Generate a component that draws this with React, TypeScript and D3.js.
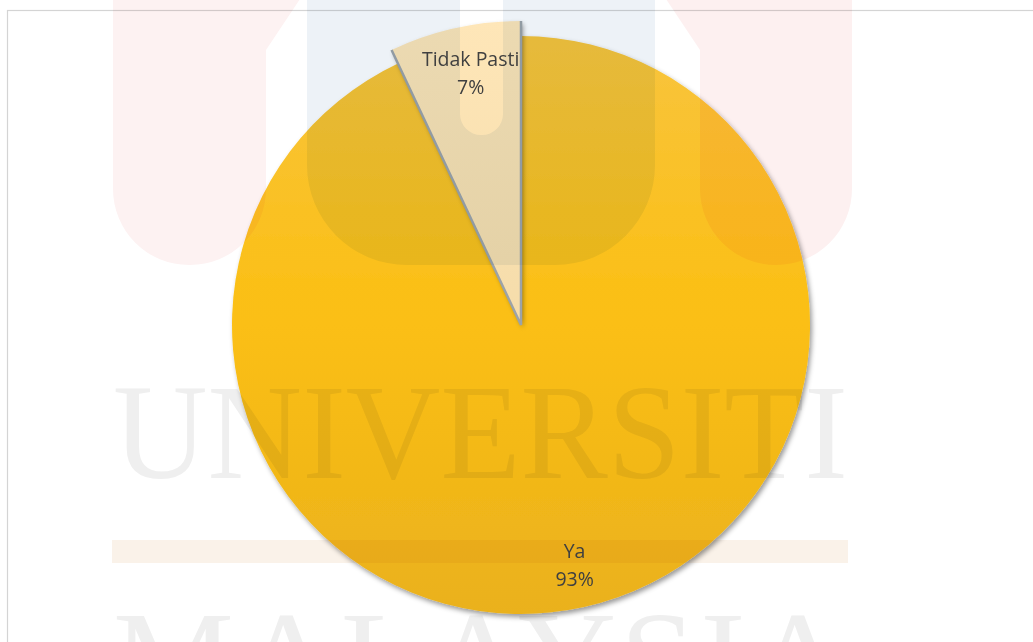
import React from "react";
import * as d3 from "d3";

// ---- data ----
const categories = ["Ya", "Tidak Pasti"];
const values = [93, 7];
const percentLabels = ["93%", "7%"];

// ---- layout ----
const W = 1033;
const H = 642;
const CX = 521;
const CY = 325;
const R_MAIN = 289;
const R_SMALL_SLICE = 304;

function roundedBottomRect(x0: number, x1: number, y0: number, y1: number, r: number, slantLeft = 0, slantRight = 0) {
  const p = d3.path();
  p.moveTo(x0 - slantLeft, y0);
  p.lineTo(x1 + slantRight, y0);
  if (slantRight) p.lineTo(x1, y0 + 60);
  p.lineTo(x1, y1 - r);
  p.arcTo(x1, y1, x1 - r, y1, r);
  p.lineTo(x0 + r, y1);
  p.arcTo(x0, y1, x0, y1 - r, r);
  if (slantLeft) p.lineTo(x0, y0 + 60);
  p.closePath();
  return p.toString();
}

export default function App() {
  const pie = d3.pie<number>().sort(null).value((d) => d);
  const arcs = pie(values);
  const radii = [R_MAIN, R_SMALL_SLICE];
  const fills = ["url(#gYa)", "url(#gTP)"];

  const arcGen = (i: number) => d3.arc<d3.PieArcDatum<number>>().innerRadius(0).outerRadius(radii[i]);
  const labelArc = (i: number) =>
    d3.arc<d3.PieArcDatum<number>>().innerRadius(radii[i] * 0.85).outerRadius(radii[i] * 0.85);

  const tp = arcs[1];
  const pt = (a: number, r: number): [number, number] => [r * Math.sin(a), -r * Math.cos(a)];
  const edgeLine = d3.line()([pt(tp.startAngle, R_SMALL_SLICE), [0, 0], pt(tp.endAngle, R_SMALL_SLICE)]) as string;

  const mb = { mixBlendMode: "multiply" as const };
  const blueShape =
    roundedBottomRect(307, 655, -10, 265, 100) + " " + roundedBottomRect(460, 503, -10, 135, 21);

  return (
    <svg width={W} height={H} style={{ position: "absolute", left: 0, top: 0 }}>
      <defs>
        <linearGradient id="gYa" x1="0" y1="0" x2="0" y2="1" gradientUnits="objectBoundingBox">
          <stop offset="0%" stopColor="#F8C43E" />
          <stop offset="50%" stopColor="#FBBF12" />
          <stop offset="100%" stopColor="#EAB11E" />
        </linearGradient>
        <linearGradient id="gTP" x1="0" y1="0" x2="0" y2="1">
          <stop offset="0%" stopColor="#FEE6B8" />
          <stop offset="100%" stopColor="#F5DCAA" />
        </linearGradient>
        <filter id="shadow" x="-10%" y="-10%" width="125%" height="125%">
          <feDropShadow dx="2" dy="3" stdDeviation="2.5" floodColor="#000" floodOpacity="0.4" />
        </filter>
      </defs>
      <rect x={0} y={0} width={W} height={H} fill="#fff" />
      <rect x={7.5} y={10.5} width={1200} height={800} fill="none" stroke="#D4D4D4" strokeWidth={1.2} />

      <g transform={`translate(${CX},${CY})`}>
        {arcs.map((a, i) => (
          <path key={categories[i]} d={arcGen(i)(a) as string} fill={fills[i]} filter="url(#shadow)" />
        ))}
        <path d={edgeLine} fill="none" stroke="#9CA3A8" strokeWidth={2.5} strokeLinejoin="miter" />
      </g>

      {/* watermark */}
      <g>
        <path d={roundedBottomRect(113, 266, -10, 265, 76, 0, 40)} fill="#FDF2F2" style={mb} />
        <path d={roundedBottomRect(700, 852, -10, 265, 76, 40, 0)} fill="#FDF0F0" style={mb} />
        <path d={blueShape} fill="#EDF2F7" fillRule="evenodd" style={mb} />
        <text
          x={113}
          y={478}
          fontFamily="Liberation Serif, serif"
          fontSize={136}
          textLength={735}
          lengthAdjust="spacingAndGlyphs"
          fill="#EFEFEF"
          style={mb}
        >
          UNIVERSITI
        </text>
        <rect x={112} y={540} width={736} height={23} fill="#FAF2E9" style={mb} />
        <text
          x={113}
          y={705}
          fontFamily="Liberation Serif, serif"
          fontSize={136}
          textLength={735}
          lengthAdjust="spacing"
          fill="#EFEFEF"
          style={mb}
        >
          MALAYSIA
        </text>
      </g>

      <g transform={`translate(${CX},${CY})`}>
        {arcs.map((a, i) => {
          const [lx, ly] = labelArc(i).centroid(a);
          return (
            <g key={categories[i]} fontFamily="'Open Sans', sans-serif" fontSize={19.5} fill="#404040" textAnchor="middle">
              <text x={lx + (i === 1 ? 6 : 0)} y={ly - 14} dominantBaseline="central">{categories[i]}</text>
              <text x={lx + (i === 1 ? 6 : 0)} y={ly + 14} dominantBaseline="central">{percentLabels[i]}</text>
            </g>
          );
        })}
      </g>
    </svg>
  );
}
